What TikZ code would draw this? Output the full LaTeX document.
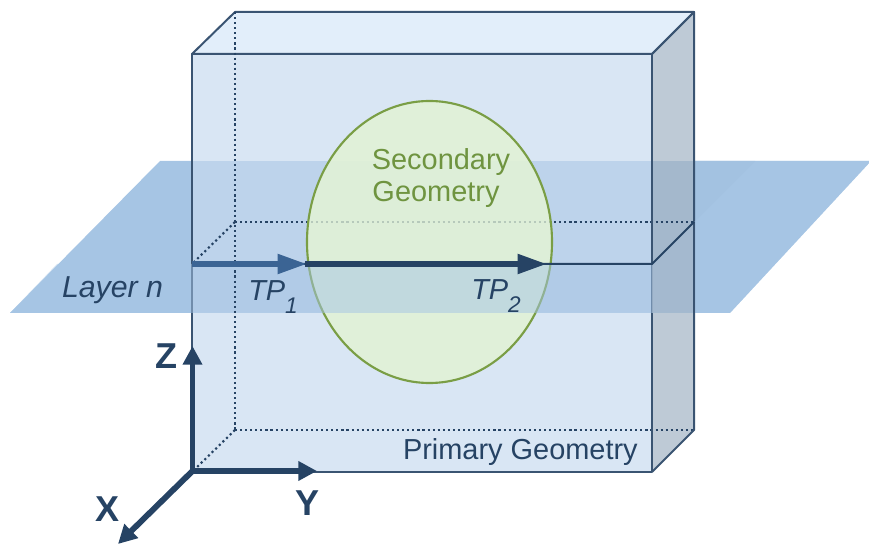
\documentclass[tikz,border=0pt]{standalone}
\usepackage{fontspec}
\setmainfont{Liberation Sans}
\usetikzlibrary{arrows.meta}
\definecolor{navy}{HTML}{264364}
\definecolor{edgec}{HTML}{3A5472}
\definecolor{midb}{HTML}{3B6494}
\definecolor{planec}{HTML}{A6C5E4}
\definecolor{planed}{HTML}{A3C2E1}
\definecolor{faceb}{HTML}{D9E6F4}
\definecolor{topb}{HTML}{E2EEFA}
\definecolor{sideb}{HTML}{BECAD6}
\definecolor{sidep}{HTML}{A4B8CC}
\definecolor{greenl}{HTML}{E2F2D6}
\definecolor{greene}{HTML}{7A9E45}
\definecolor{greent}{HTML}{6F9440}
\tikzset{
  boxedge/.style={draw=edgec,line width=1.5pt,line join=round},
  hiddenedge/.style={draw=navy,line width=1.6pt,dash pattern=on 1.6pt off 2.2pt},
  axis/.style={draw=navy,line width=4.4pt,-{Triangle[length=14pt,width=14pt]}},
  tp/.style={line width=4.4pt,-{Triangle[length=22pt,width=14pt]}},
  lbl/.style={font=\fontsize{21.7}{25}\selectfont,inner sep=0pt,text=navy},
  axlbl/.style={font=\fontsize{27}{30}\selectfont\bfseries,inner sep=0pt,text=navy},
}
\newcommand{\subidx}[1]{\raisebox{-0.42em}{\fontsize{17}{19}\selectfont\itshape #1}}
\begin{document}
\begin{tikzpicture}[x=0.75pt,y=-0.75pt]
\useasboundingbox (0,0) rectangle (869,545);
% corners
\coordinate (ftl) at (192,54);
\coordinate (ftr) at (652,54);
\coordinate (fbl) at (192,472);
\coordinate (fbr) at (652,472);
\coordinate (btl) at (235,12);
\coordinate (btr) at (694,12);
\coordinate (bbl) at (235,430);
\coordinate (bbr) at (694,430);
\coordinate (mfl) at (192,264);
\coordinate (mfr) at (652,264);
\coordinate (mbl) at (235,222);
\coordinate (mbr) at (694,222);
\coordinate (ecentre) at (429.5,242);
% plane
\fill[planec] (160,161) -- (871,161) -- (730,313) -- (10,313) -- cycle;
\fill[planed] (694,161) -- (755,161) -- (694,222) -- cycle;
% faces
\fill[faceb,fill opacity=.45] (ftl) -- (ftr) -- (fbr) -- (fbl) -- cycle;
\fill[topb] (ftl) -- (btl) -- (btr) -- (ftr) -- cycle;
\fill[sidep] (652,161) -- (694,161) -- (694,313) -- (652,313) -- cycle;
\begin{scope}[even odd rule]
\clip (0,0) rectangle (869,161) (0,313) rectangle (869,545);
\fill[faceb] (ftl) -- (ftr) -- (fbr) -- (fbl) -- cycle;
\fill[sideb] (ftr) -- (btr) -- (bbr) -- (fbr) -- cycle;
\end{scope}
% hidden edges
\draw[hiddenedge] (bbl) -- (bbr);
\draw[hiddenedge] (bbl) -- (fbl);
\draw[hiddenedge] (mbl) -- (mbr);
\draw[hiddenedge] (mbl) -- (mfl);
% visible edges
\draw[boxedge] (ftl) -- (btl) -- (btr) -- (ftr) -- cycle;
\draw[boxedge] (ftl) -- (ftr) -- (fbr) -- (fbl) -- cycle;
\draw[boxedge] (ftr) -- (btr) -- (bbr) -- (fbr);
% ellipse
\fill[greenl,fill opacity=.88] (ecentre) ellipse [x radius=122.5,y radius=141];
\draw[hiddenedge,draw opacity=.12] (mbl) -- (mbr);
\draw[greene,line width=1.6pt] (ecentre) ellipse [x radius=122.5,y radius=141];
% plane, front part
\fill[planec,fill opacity=.5] (mfl) -- (mfr) -- (mbr) -- (755,161) -- (871,161) -- (730,313) -- (10,313) -- (57,264) -- cycle;
\fill[sidep,fill opacity=.7] (mfr) -- (mbr) -- (694,313) -- (652,313) -- cycle;
\draw[boxedge] (mbr) -- (694,313);
\draw[boxedge,draw=navy] (mfl) -- (mfr) -- (mbr);
\draw[hiddenedge] (btl) -- (bbl);
% axes
\coordinate (org) at (192.5,471);
\coordinate (zend) at (192.5,346);
\coordinate (yend) at (317,471);
\coordinate (xend) at (118,544);
\draw[axis] (org) -- (zend);
\draw[axis] (org) -- (yend);
\draw[axis] (org) -- (xend);
% TP arrows
\coordinate (tp1s) at (192,264);
\coordinate (tp1e) at (307,264);
\coordinate (tp2s) at (305,264);
\coordinate (tp2e) at (547,264);
\draw[tp,draw=midb,fill=midb] (tp1s) -- (tp1e);
\draw[tp,draw=navy,fill=navy] (tp2s) -- (tp2e);
% labels
\node[lbl,anchor=base,font=\fontsize{22.7}{25}\selectfont] (layer) at (112.5,298) {\itshape Layer n};
\node[lbl,anchor=base west] (tpa) at (248,301) {\itshape TP\subidx{1}};
\node[lbl,anchor=base west] (tpb) at (471,300) {\itshape TP\subidx{2}};
\node[lbl,anchor=base,text=greent] (sec1) at (441,170) {Secondary};
\node[lbl,anchor=base,text=greent] (sec2) at (436,202) {Geometry};
\node[lbl,anchor=base east] (prim) at (638,460) {Primary Geometry};
\node[axlbl,anchor=base] (zl) at (166,369) {Z};
\node[axlbl,anchor=base] (yl) at (308,516) {Y};
\node[axlbl,anchor=base] (xl) at (107.5,522) {X};
\end{tikzpicture}
\end{document}
